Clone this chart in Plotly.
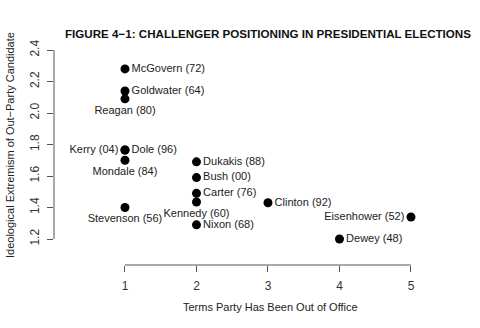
import plotly.graph_objects as go

names = ["McGovern (72)", "Goldwater (64)", "Reagan (80)", "Kerry (04)", "Dole (96)",
         "Mondale (84)", "Stevenson (56)", "Dukakis (88)", "Bush (00)", "Carter (76)",
         "Kennedy (60)", "Nixon (68)", "Clinton (92)", "Eisenhower (52)", "Dewey (48)"]
terms = [1, 1, 1, 1, 1, 1, 1, 2, 2, 2, 2, 2, 3, 5, 4]
extremism = [2.28, 2.14, 2.09, 1.765, 1.765, 1.70, 1.40, 1.69, 1.59, 1.49, 1.435, 1.29, 1.43, 1.34, 1.20]
positions = ["middle right", "middle right", "bottom center", "middle left", "middle right",
             "bottom center", "bottom center", "middle right", "middle right", "middle right",
             "bottom center", "middle right", "middle right", "middle left", "middle right"]

x_ticks = [1, 2, 3, 4, 5]
y_ticks = [1.2, 1.4, 1.6, 1.8, 2.0, 2.2, 2.4]

FONT = "Liberation Sans, Arial, sans-serif"
fig = go.Figure()
fig.add_trace(go.Scatter(
    x=terms, y=extremism, mode="markers+text", text=names, textposition=positions,
    marker=dict(size=9, color="black"),
    textfont=dict(family=FONT, size=11, color="#222"),
    cliponaxis=False, hoverinfo="skip"))

fig.update_layout(
    width=480, height=328,
    margin=dict(l=54, r=40, t=42, b=63),
    paper_bgcolor="white", plot_bgcolor="white",
    showlegend=False,
    font=dict(family=FONT, size=11, color="#222"),
    title=dict(text="<b>FIGURE 4\u22121: CHALLENGER POSITIONING IN PRESIDENTIAL ELECTIONS</b>",
               x=268/480, xanchor="center", xref="container",
               y=1-34/328, yanchor="middle", yref="container",
               font=dict(family=FONT, size=11.6, color="#111")),
    xaxis=dict(range=[0.007, 5.406], tickvals=x_ticks, ticktext=[str(v) for v in x_ticks],
               showgrid=False, zeroline=False, showline=False,
               ticks="outside", ticklen=6, tickcolor="#555", tickwidth=1,
               tickfont=dict(family=FONT, size=12, color="#333"), ticklabelstandoff=4),
    yaxis=dict(range=[1.035, 2.451], tickvals=y_ticks, ticktext=["%.1f" % v for v in y_ticks],
               showgrid=False, zeroline=False, showline=False,
               ticks="outside", ticklen=6, tickcolor="#555", tickwidth=1, tickangle=-90,
               tickfont=dict(family=FONT, size=12, color="#333"), ticklabelstandoff=3),
    shapes=[
        dict(type="line", xref="x", yref="paper", x0=x_ticks[0], x1=x_ticks[-1], y0=0, y1=0,
             line=dict(color="#555", width=1)),
        dict(type="line", xref="paper", yref="y", x0=0, x1=0, y0=y_ticks[0], y1=y_ticks[-1],
             line=dict(color="#555", width=1)),
    ],
    annotations=[
        dict(text="Terms Party Has Been Out of Office", xref="paper", yref="paper",
             x=(270-54)/386, y=-(307-265)/223, xanchor="center", yanchor="middle",
             showarrow=False, font=dict(family=FONT, size=11, color="#222")),
        dict(text="Ideological Extremism of Out\u2212Party Candidate", xref="paper", yref="paper",
             x=-(54-10)/386, y=(265-145)/223, xanchor="center", yanchor="middle", textangle=-90,
             showarrow=False, font=dict(family=FONT, size=11, color="#222")),
    ],
)

fig.write_html("out.html")
